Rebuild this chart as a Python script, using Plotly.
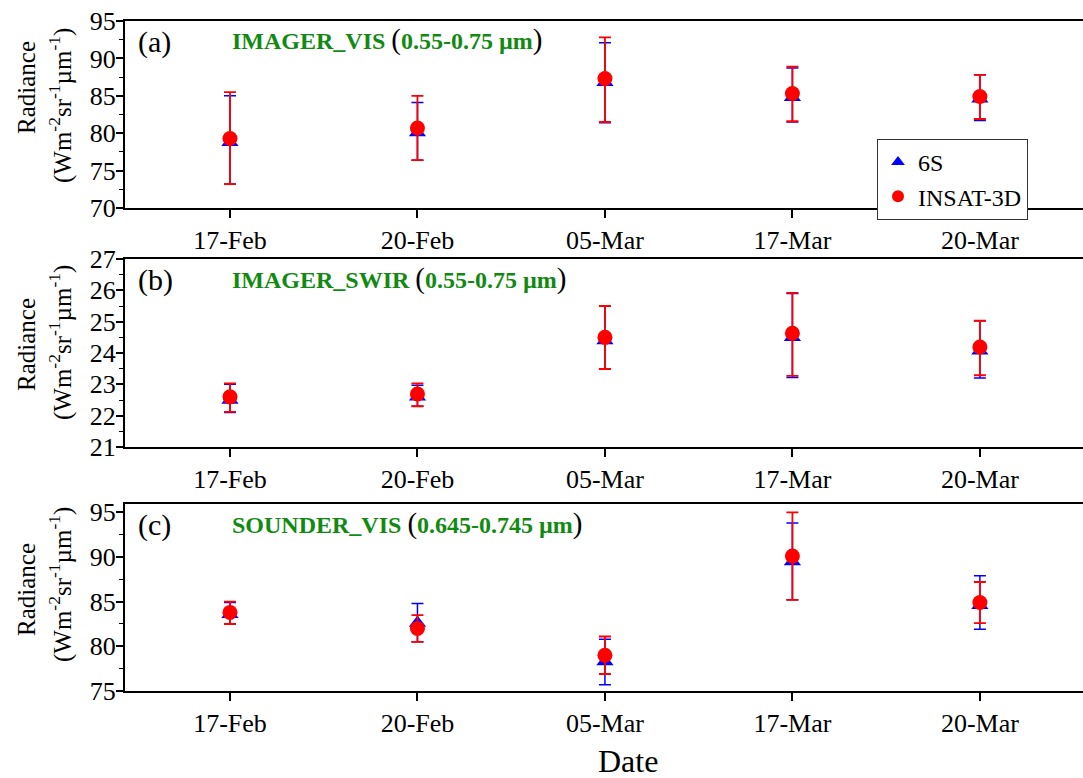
import plotly.graph_objects as go
import numpy as np

# Observation dates (categorical x axis)
dates = ["17-Feb", "20-Feb", "05-Mar", "17-Mar", "20-Mar"]

# (a) IMAGER_VIS radiance: mean with upper/lower bounds of the spread
vis_6s = [78.8, 80.1, 86.8, 84.8, 84.6]
vis_6s_hi = [85.0, 84.1, 92.1, 88.7, 87.8]
vis_6s_lo = [73.2, 76.4, 81.4, 81.5, 81.7]
vis_ins = [79.3, 80.7, 87.3, 85.3, 84.9]
vis_ins_hi = [85.5, 85.0, 92.8, 88.9, 87.8]
vis_ins_lo = [73.2, 76.4, 81.5, 81.6, 81.9]

# (b) IMAGER_SWIR radiance
swir_6s = [22.5, 22.6, 24.4, 24.5, 24.07]
swir_6s_hi = [23.0, 22.97, 25.5, 25.9, 25.03]
swir_6s_lo = [22.1, 22.3, 23.49, 23.22, 23.2]
swir_ins = [22.6, 22.69, 24.5, 24.63, 24.19]
swir_ins_hi = [23.03, 23.03, 25.5, 25.92, 25.03]
swir_ins_lo = [22.12, 22.3, 23.49, 23.27, 23.29]

# (c) SOUNDER_VIS radiance
snd_6s = [83.6, 82.6, 78.3, 89.5, 84.6]
snd_6s_hi = [84.9, 84.8, 80.8, 93.8, 87.9]
snd_6s_lo = [82.5, 80.5, 75.7, 85.2, 81.9]
snd_ins = [83.8, 82.0, 79.0, 90.1, 84.9]
snd_ins_hi = [85.0, 83.5, 81.1, 95.0, 87.2]
snd_ins_lo = [82.5, 80.5, 76.9, 85.2, 82.6]

W, H = 1083, 778
FONT = "Liberation Serif"
GREEN = "#118a11"
BLUE = "#0000ff"
RED = "#ff0000"
TICK_SIZE = 26

# panel pixel boxes: (top, bottom) and y range, tick steps
panels = [
    dict(top=21, bottom=208, rng=[70, 95], dtick=5, minor=2.5, rminor=0.5,
         tag="(a)", name="IMAGER_VIS", band="0.55-0.75 µm",
         s6=(vis_6s, vis_6s_hi, vis_6s_lo), ins=(vis_ins, vis_ins_hi, vis_ins_lo),
         rad_y=88, unit_y=106),
    dict(top=259, bottom=447, rng=[21, 27], dtick=1, minor=0.5, rminor=0.5,
         tag="(b)", name="IMAGER_SWIR", band="0.55-0.75 µm",
         s6=(swir_6s, swir_6s_hi, swir_6s_lo), ins=(swir_ins, swir_ins_hi, swir_ins_lo),
         rad_y=345, unit_y=343),
    dict(top=504, bottom=691, rng=[75, 95.93], dtick=5, minor=2.5, rminor=2.5,
         tag="(c)", name="SOUNDER_VIS", band="0.645-0.745 µm",
         s6=(snd_6s, snd_6s_hi, snd_6s_lo), ins=(snd_ins, snd_ins_hi, snd_ins_lo),
         rad_y=590, unit_y=585),
]

x_left = 125 / W
fig = go.Figure()
annotations = []
layout = {}

for i, p in enumerate(panels):
    n = i + 1
    xa = "x" if n == 1 else f"x{n}"
    ya = "y" if n == 1 else f"y{n}"
    dom_y = [1 - p["bottom"] / H, 1 - p["top"] / H]

    for label, (val, hi, lo), sym, col, thick in [
        ("6S", p["s6"], "triangle-up", BLUE, 1.5),
        ("INSAT-3D", p["ins"], "circle", RED, 1.8),
    ]:
        val = np.array(val)
        fig.add_trace(go.Scatter(
            x=dates, y=val, mode="markers", name=label,
            xaxis=xa, yaxis=ya, showlegend=(n == 1),
            marker=dict(symbol=sym, size=15, color=col, line=dict(width=0)),
            error_y=dict(type="data", symmetric=False,
                         array=np.array(hi) - val, arrayminus=val - np.array(lo),
                         color=col, thickness=thick, width=6),
        ))

    layout[f"xaxis{'' if n == 1 else n}"] = dict(
        domain=[x_left, 1], anchor=ya, type="category",
        range=[-0.56, 4.55], showline=True, mirror=True, linecolor="black",
        linewidth=2, ticks="outside", ticklen=8, tickwidth=1.5, tickcolor="black",
        showgrid=False, zeroline=False,
        tickfont=dict(family=FONT, size=TICK_SIZE, color="black"), automargin=False,
    )
    layout[f"yaxis{'' if n == 1 else n}"] = dict(
        domain=dom_y, anchor=xa, range=p["rng"], dtick=p["dtick"],
        showline=True, linecolor="black", linewidth=2,
        ticks="outside", ticklen=7, tickwidth=1.5, tickcolor="black",
        minor=dict(ticks="outside", ticklen=4, dtick=p["minor"],
                   tickcolor="black", tickwidth=1.2),
        showgrid=False, zeroline=False, ticklabelstandoff=-5,
        tickfont=dict(family=FONT, size=TICK_SIZE, color="black"), automargin=False,
    )
    # right-hand inner ticks
    layout[f"yaxis{n + 3}"] = dict(
        overlaying=ya, anchor=xa, side="right", range=p["rng"], dtick=p["dtick"],
        ticks="inside", ticklen=8, tickwidth=1.5, tickcolor="black",
        minor=dict(ticks="inside", ticklen=4, dtick=p["rminor"],
                   tickcolor="black", tickwidth=1.2),
        showticklabels=False, showline=False, showgrid=False, zeroline=False,
    )

    # panel tag and channel title
    annotations.append(dict(
        x=136 / W, y=1 - (p["top"] + 21) / H, xref="paper", yref="paper",
        xanchor="left", yanchor="middle", showarrow=False, text=p["tag"],
        font=dict(family=FONT, size=30, color="black"),
    ))
    annotations.append(dict(
        x=230 / W, y=1 - (p["top"] + 19) / H, xref="paper", yref="paper",
        xanchor="left", yanchor="middle", showarrow=False,
        text=(f"<b>{p['name']}</b> <span style='color:black;font-size:29px'>(</span>"
              f"<b>{p['band']}</b><span style='color:black;font-size:29px'>)</span>"),
        font=dict(family=FONT, size=24, color=GREEN),
    ))
    # y-axis title, two rotated lines
    annotations.append(dict(
        x=26 / W, y=1 - p["rad_y"] / H, xref="paper", yref="paper",
        xanchor="center", yanchor="middle", showarrow=False, textangle=-90,
        text="Radiance", font=dict(family=FONT, size=25, color="black"),
    ))
    annotations.append(dict(
        x=60 / W, y=1 - p["unit_y"] / H, xref="paper", yref="paper",
        xanchor="center", yanchor="middle", showarrow=False, textangle=-90,
        text="(Wm<sup>-2</sup>sr<sup>-1</sup>µm<sup>-1</sup>)",
        font=dict(family=FONT, size=25, color="black"),
    ))

annotations.append(dict(
    x=628 / W, y=1 - 761 / H, xref="paper", yref="paper",
    xanchor="center", yanchor="middle", showarrow=False, text="Date",
    font=dict(family=FONT, size=32, color="black"),
))

fig.update_layout(
    width=W, height=H,
    margin=dict(l=0, r=0, t=0, b=0),
    paper_bgcolor="white", plot_bgcolor="white",
    annotations=annotations,
    legend=dict(
        x=877 / W, y=1 - 139 / H, xanchor="left", yanchor="top",
        bordercolor="#333333", borderwidth=1, bgcolor="white",
        font=dict(family=FONT, size=24, color="black"),
        itemsizing="constant", tracegroupgap=0,
    ),
    **layout,
)

fig.write_html("out.html")
